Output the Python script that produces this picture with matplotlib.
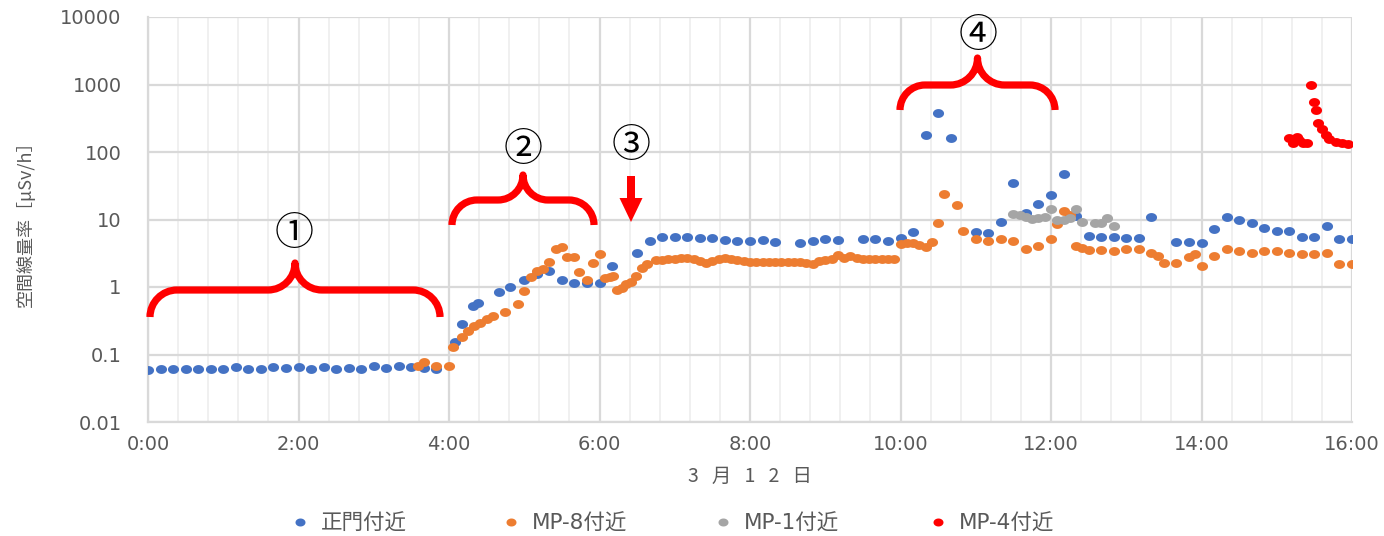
import matplotlib
matplotlib.use("Agg")
import numpy as np
import matplotlib.pyplot as plt
from matplotlib.path import Path
from matplotlib.patches import PathPatch, Polygon
from matplotlib.lines import Line2D
from matplotlib.ticker import FixedLocator, MultipleLocator, NullFormatter
import matplotlib.transforms as mtransforms

plt.rcParams['font.family'] = ['Noto Sans CJK JP', 'DejaVu Sans']

# ---------------- data ----------------
blue_times = ["0:00", "0:10", "0:20", "0:30", "0:40", "0:50", "1:00", "1:10", "1:20", "1:30",
              "1:40", "1:50", "2:00", "2:10", "2:20", "2:30", "2:40", "2:50", "3:00", "3:10",
              "3:20", "3:30", "3:40", "3:50",
              "4:05", "4:10", "4:19", "4:23", "4:40", "4:49", "5:00", "5:10", "5:20", "5:30",
              "5:40", "5:50", "6:00", "6:10", "6:30",
              "6:40", "6:50", "7:00", "7:10", "7:20", "7:30", "7:40", "7:50", "8:00", "8:10", "8:20",
              "8:40", "8:50", "9:00", "9:10",
              "9:30", "9:40", "9:50", "10:00", "10:10", "10:20", "10:30", "10:40",
              "11:00", "11:10", "11:20", "11:30", "11:40", "11:50", "12:00", "12:10", "12:20", "12:30",
              "12:40", "12:50",
              "13:00", "13:10", "13:20",
              "13:40", "13:50", "14:00", "14:10", "14:20", "14:30", "14:40", "14:50", "15:00", "15:10",
              "15:20", "15:30", "15:40", "15:50", "16:00"]
blue_vals = [0.058, 0.060, 0.062, 0.062, 0.061, 0.061, 0.062, 0.065, 0.062, 0.062,
             0.065, 0.064, 0.065, 0.062, 0.065, 0.062, 0.064, 0.062, 0.067, 0.064,
             0.067, 0.065, 0.064, 0.062,
             0.155, 0.283, 0.524, 0.574, 0.844, 0.99, 1.27, 1.56, 1.74, 1.27,
             1.16, 1.14, 1.16, 2.07, 3.22,
             4.80, 5.45, 5.45, 5.45, 5.26, 5.26, 4.97, 4.85, 4.80, 4.97, 4.69,
             4.44, 4.80, 5.14, 4.97,
             5.14, 5.14, 4.85, 5.26, 6.59, 179, 382, 160,
             6.59, 6.25, 9.27, 35.1, 12.4, 17.0, 22.8, 47.2, 11.3, 5.70,
             5.45, 5.45,
             5.26, 5.26, 10.8,
             4.69, 4.69, 4.44, 7.16, 10.8, 9.83, 8.79, 7.41, 6.83, 6.83,
             5.45, 5.45, 8.01, 5.14, 5.14]

orange_times = ["3:35", "3:40", "3:50", "4:00",
                "4:03", "4:10", "4:15", "4:20", "4:25", "4:30", "4:35", "4:45", "4:55", "5:00",
                "5:05", "5:10", "5:15", "5:20", "5:25", "5:30", "5:34", "5:40", "5:44", "5:50",
                "5:55", "6:00",
                "6:04", "6:08", "6:11", "6:14", "6:18", "6:21", "6:25", "6:29", "6:34", "6:38",
                "6:45", "6:50", "6:55", "7:00", "7:05", "7:10", "7:15", "7:20", "7:25", "7:30",
                "7:35", "7:40", "7:45", "7:50", "7:55", "8:00", "8:05", "8:10", "8:15", "8:20",
                "8:25", "8:30", "8:35", "8:40", "8:45", "8:50", "8:55", "9:00", "9:05", "9:10",
                "9:15", "9:20", "9:25", "9:30", "9:35", "9:40", "9:45", "9:50", "9:55",
                "10:00", "10:05", "10:10", "10:15", "10:20", "10:25", "10:30", "10:35",
                "10:45", "10:50",
                "11:00", "11:10", "11:20", "11:30", "11:40", "11:50",
                "12:00", "12:05", "12:10", "12:15", "12:20", "12:25", "12:30",
                "12:40", "12:50", "13:00", "13:10", "13:20",
                "13:25", "13:30",
                "13:40", "13:50", "13:55",
                "14:00", "14:10", "14:20", "14:30", "14:40", "14:50", "15:00", "15:10", "15:20",
                "15:30", "15:40", "15:50", "16:00"]
orange_vals = [0.068, 0.077, 0.068, 0.068,
               0.128, 0.184, 0.221, 0.267, 0.296, 0.332, 0.372, 0.422, 0.560, 0.873,
               1.39, 1.74, 1.85, 2.37, 3.66, 3.96, 2.81, 2.81, 1.69, 1.27,
               2.24, 3.05,
               1.35, 1.42, 1.47, 0.89, 0.98, 1.09, 1.17, 1.45, 1.94, 2.19,
               2.50, 2.51, 2.56, 2.63, 2.71, 2.66, 2.56, 2.45, 2.24, 2.45,
               2.60, 2.70, 2.60, 2.50, 2.42, 2.37, 2.37, 2.37, 2.37, 2.37,
               2.37, 2.35, 2.35, 2.33, 2.24, 2.19, 2.42, 2.51, 2.63, 2.99,
               2.70, 2.85, 2.70, 2.63, 2.63, 2.63, 2.63, 2.63, 2.63,
               4.34, 4.43, 4.43, 4.19, 3.87, 4.69, 8.97, 23.9,
               16.4, 6.83,
               5.09, 4.80, 5.09, 4.85, 3.66, 4.05,
               5.20, 8.58, 13.5, 11.7, 4.05, 3.74, 3.53,
               3.53, 3.45, 3.62, 3.62, 3.22,
               2.88, 2.29,
               2.29, 2.75, 3.08,
               2.05, 2.88, 3.66, 3.45, 3.22, 3.45, 3.45, 3.22, 3.08,
               3.08, 3.22, 2.17, 2.17]

gray_times = ["11:30", "11:35", "11:40", "11:45", "11:50", "11:55", "12:00", "12:05",
              "12:10", "12:15", "12:20", "12:25", "12:35", "12:40", "12:45", "12:50"]
gray_vals = [12.1, 11.5, 10.8, 10.3, 10.5, 10.8, 14.2, 9.83,
             9.83, 10.4, 14.2, 9.27, 8.97, 8.79, 10.4, 8.09]

red_times = ["15:10", "15:13", "15:16", "15:18", "15:21", "15:24", "15:27", "15:30", "15:31",
             "15:33", "15:36", "15:39", "15:42", "15:47", "15:52", "15:57"]
red_vals = [160, 137, 169, 151, 135, 137, 1000, 556, 419,
            266, 217, 179, 154, 142, 135, 131]

series_names = ["正門付近", "MP-8付近", "MP-1付近", "MP-4付近"]
series_colors = ["#4472C4", "#ED7D31", "#A5A5A5", "#FF0000"]

x_tick_labels = ["0:00", "2:00", "4:00", "6:00", "8:00", "10:00", "12:00", "14:00", "16:00"]
y_tick_vals = [0.01, 0.1, 1, 10, 100, 1000, 10000]
y_tick_labels = ["0.01", "0.1", "1", "10", "100", "1000", "10000"]
x_axis_title = "3   月   1   2   日"
y_axis_title = "空間線量率［μSv/h］"


def to_hours(s):
    h, m = s.split(":")
    return int(h) + int(m) / 60.0


# slightly wide elliptical dot (the reference is horizontally stretched)
_t = np.linspace(0, 2 * np.pi, 41)
ELLIPSE = Path(np.column_stack([np.cos(_t), 0.8 * np.sin(_t)]), closed=True)

# ---------------- figure ----------------
W, H = 1384, 536
fig = plt.figure(figsize=(W / 100, H / 100), dpi=100)
ax = fig.add_axes([148 / W, 1 - 422 / H, (1352 - 148) / W, (422 - 17) / H])

TXT = "#595959"
GRID = "#D9D9D9"
LATIN = ["DejaVu Sans", "Noto Sans CJK JP"]

all_series = [(blue_times, blue_vals), (orange_times, orange_vals),
              (gray_times, gray_vals), (red_times, red_vals)]
for (ts, vs), name, col in zip(all_series, series_names, series_colors):
    ax.plot([to_hours(t) for t in ts], vs, linestyle="none", marker=ELLIPSE,
            ms=8.0, mec="none", mfc=col, label=name, zorder=3)

ax.set_yscale("log")
ax.set_ylim(0.01, 10000)
ax.set_xlim(0, 16)
ax.yaxis.set_major_locator(FixedLocator(y_tick_vals))
ax.yaxis.set_minor_locator(FixedLocator([]))
ax.set_yticks(y_tick_vals)
ax.set_yticklabels(y_tick_labels, family=LATIN)
ax.set_xticks(list(range(0, 17, 2)))
ax.set_xticklabels(x_tick_labels, family=LATIN)
ax.xaxis.set_minor_locator(MultipleLocator(0.4))
ax.xaxis.set_minor_formatter(NullFormatter())

ax.grid(True, which="major", axis="both", color=GRID, lw=1.6, zorder=0)
ax.grid(True, which="minor", axis="x", color="#EFEFEF", lw=1.3, zorder=0)
ax.set_axisbelow(True)
for s in ["top", "right"]:
    ax.spines[s].set_visible(False)
for s in ["left", "bottom"]:
    ax.spines[s].set_color(GRID)
    ax.spines[s].set_linewidth(1.6)

ax.tick_params(axis="both", which="both", length=0, colors=TXT, labelsize=14)
ax.tick_params(axis="y", pad=19)
ax.tick_params(axis="x", pad=9)

ax.set_xlabel(x_axis_title, color=TXT, fontsize=14, labelpad=9)
ax.set_ylabel(y_axis_title, color=TXT, fontsize=13)
ax.yaxis.set_label_coords(-0.094, 0.5)

# ---------------- annotations (figure pixel coords, y downward) ----------------
pix = mtransforms.Affine2D().scale(1 / W, -1 / H).translate(0, 1) + fig.transFigure


def brace(x0, x1, yend, yflat, ytip):
    xm = (x0 + x1) / 2
    r1 = yend - yflat
    r2 = yflat - ytip
    verts = [(x0, yend),
             (x0, yend - r1 * 0.55), (x0 + r1 * 0.45, yflat), (x0 + r1, yflat),
             (xm - r2, yflat),
             (xm - r2 * 0.45, yflat), (xm, yflat - r2 * 0.45), (xm, ytip),
             (xm, yflat - r2 * 0.45), (xm + r2 * 0.45, yflat), (xm + r2, yflat),
             (x1 - r1, yflat),
             (x1 - r1 * 0.45, yflat), (x1, yend - r1 * 0.55), (x1, yend)]
    codes = [Path.MOVETO,
             Path.CURVE4, Path.CURVE4, Path.CURVE4,
             Path.LINETO,
             Path.CURVE4, Path.CURVE4, Path.CURVE4,
             Path.CURVE4, Path.CURVE4, Path.CURVE4,
             Path.LINETO,
             Path.CURVE4, Path.CURVE4, Path.CURVE4]
    p = PathPatch(Path(verts, codes), transform=pix, fill=False, ec="#FF0000",
                  lw=5.2, capstyle="butt", joinstyle="round", zorder=5)
    fig.add_artist(p)


brace(150, 440, 317, 290, 263)
brace(452, 594, 225, 200, 175)
brace(900, 1055, 110, 85, 58)

# arrow (3)
axx = 631
arrow = Polygon([(axx - 4, 176), (axx + 4, 176), (axx + 4, 198), (axx + 11.5, 198),
                 (axx, 222), (axx - 11.5, 198), (axx - 4, 198)],
                closed=True, transform=pix, fc="#FF0000", ec="none", zorder=5)
fig.add_artist(arrow)

for label, (cx, cy) in zip(["①", "②", "③", "④"],
                           [(294, 234), (523, 150), (631, 146), (978, 36)]):
    fig.text(cx / W, 1 - cy / H, label, ha="center", va="center", fontsize=28,
             color="black", family=["Noto Sans CJK JP", "DejaVu Sans"])

# ---------------- legend (entries placed as in the reference) ----------------
legend_dot_x = [300, 511, 723, 938]
legend_y = 522
for name, col, lx in zip(series_names, series_colors, legend_dot_x):
    fig.add_artist(Line2D([lx], [legend_y], transform=pix, linestyle="none",
                          marker=ELLIPSE, ms=7.2, mec="none", mfc=col))
    fig.text((lx + 21) / W, 1 - legend_y / H, name, ha="left", va="center_baseline",
             fontsize=15.5, color=TXT, family=LATIN)

fig.savefig("out.png", dpi=100)
